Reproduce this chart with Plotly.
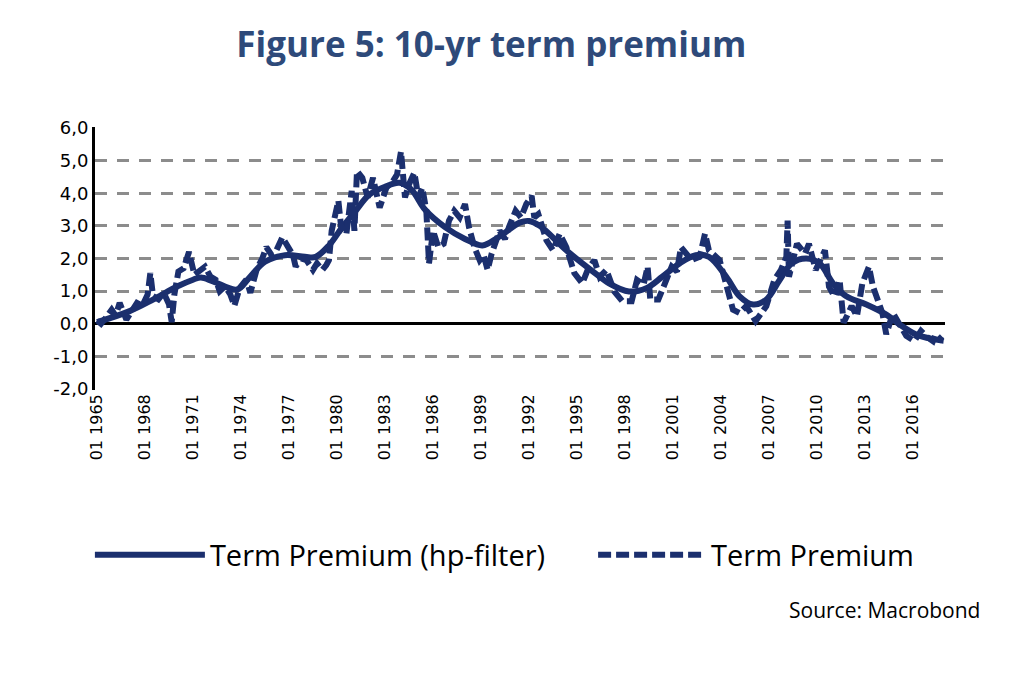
import plotly.graph_objects as go

# Term premium (raw)
tp_dates = [
    "1965-01", "1965-04", "1965-08", "1965-12", "1966-03", "1966-06", "1966-11",
    "1967-03", "1967-07", "1967-11", "1968-03", "1968-05", "1968-07", "1968-11",
    "1969-03", "1969-07", "1969-09", "1969-11", "1970-02", "1970-06", "1970-10",
    "1971-02", "1971-06", "1971-10", "1972-02", "1972-06", "1972-09", "1973-01",
    "1973-05", "1973-08", "1973-12", "1974-05", "1974-08", "1975-01", "1975-05",
    "1975-08", "1975-12", "1976-03", "1976-08", "1977-01", "1977-04", "1977-06",
    "1977-10", "1978-02", "1978-07", "1978-10", "1979-02", "1979-05", "1979-07",
    "1979-09", "1980-02", "1980-04", "1980-05", "1980-08", "1980-12", "1981-02",
    "1981-04", "1981-08", "1981-12", "1982-04", "1982-06", "1982-09", "1983-02",
    "1983-07", "1983-10", "1984-01", "1984-04", "1984-07", "1984-11", "1985-02",
    "1985-05", "1985-08", "1985-10", "1986-01", "1986-05", "1986-09", "1987-01",
    "1987-05", "1987-09", "1988-01", "1988-04", "1988-08", "1988-12", "1989-03",
    "1989-06", "1989-09", "1990-03", "1990-07", "1990-10", "1991-03", "1991-07",
    "1991-11", "1992-03", "1992-05", "1992-08", "1993-02", "1993-07", "1993-12",
    "1994-05", "1994-11", "1995-05", "1995-09", "1996-02", "1996-06", "1996-11",
    "1997-05", "1997-11", "1998-06", "1998-10", "1999-03", "1999-06", "1999-08",
    "2000-02", "2000-07", "2000-12", "2001-04", "2001-07", "2002-03", "2002-09",
    "2003-01", "2003-04", "2003-12", "2004-05", "2004-10", "2005-03", "2005-08",
    "2006-03", "2006-11", "2007-05", "2007-10", "2008-02", "2008-03", "2008-04",
    "2008-07", "2008-10", "2009-04", "2009-07", "2009-12", "2010-07", "2010-10",
    "2011-02", "2011-06", "2011-09", "2012-03", "2012-07", "2012-11", "2013-04",
    "2013-07", "2013-10", "2014-02", "2014-05", "2014-10", "2015-03", "2015-08",
    "2016-02", "2016-07", "2016-12", "2017-04", "2017-06", "2017-11",
]
tp_values = [
    0.10, 0.00, 0.20, 0.43, 0.25, 0.64, 0.13,
    0.40, 0.64, 0.55, 0.90, 1.55, 0.85, 0.75,
    0.95, 0.60, 0.05, 0.90, 1.60, 1.70, 2.20,
    1.50, 1.65, 1.75, 1.45, 1.35, 1.00, 1.15,
    0.90, 0.55, 1.10, 1.35, 0.95, 1.70, 2.00,
    2.35, 2.10, 2.20, 2.65, 2.30, 2.10, 1.75,
    2.00, 1.95, 1.65, 1.85, 1.65, 1.80, 1.95,
    2.85, 3.77, 3.00, 2.85, 2.75, 4.07, 2.85,
    4.68, 4.47, 3.87, 4.47, 4.10, 3.56, 4.17,
    4.37, 4.57, 5.28, 3.87, 4.27, 4.63, 3.87,
    4.17, 3.46, 1.85, 2.85, 2.35, 2.45, 3.16,
    3.46, 3.26, 3.67, 2.96, 2.35, 1.95, 2.10,
    1.65, 2.15, 2.85, 2.60, 2.96, 3.46, 3.26,
    3.67, 3.92, 3.26, 3.36, 2.56, 2.25, 2.76,
    2.35, 1.55, 1.24, 1.65, 1.95, 1.44, 1.65,
    0.99, 0.69, 0.69, 1.34, 1.20, 1.75, 0.74,
    0.74, 1.24, 1.75, 1.60, 2.35, 1.95, 2.05,
    2.76, 2.25, 1.95, 1.24, 0.43, 0.33, 0.54,
    0.08, 0.54, 1.34, 1.65, 2.05, 3.16, 1.44,
    1.95, 2.45, 2.15, 2.45, 1.65, 2.25, 1.14,
    0.84, 1.34, 0.03, 0.54, 0.23, 1.24, 1.75,
    1.14, 0.74, 0.33, -0.32, 0.33, -0.02, -0.37,
    -0.53, -0.22, -0.42, -0.53, -0.32, -0.53,
]

# Term premium, hp-filtered trend
hp_dates = [
    "1965-01", "1967-01", "1968-07", "1970-01", "1971-01", "1971-07", "1972-04",
    "1973-10", "1974-07", "1975-07", "1976-10", "1978-01", "1978-09", "1979-07",
    "1980-05", "1981-03", "1982-01", "1983-01", "1983-12", "1984-09", "1985-07",
    "1986-10", "1988-01", "1989-02", "1990-02", "1991-06", "1992-01", "1992-09",
    "1994-05", "1996-01", "1997-01", "1998-04", "1999-05", "2000-05", "2001-06",
    "2002-06", "2003-04", "2004-05", "2005-03", "2006-01", "2006-11", "2007-09",
    "2008-06", "2009-05", "2010-03", "2011-01", "2011-11", "2013-02", "2014-05",
    "2015-03", "2016-03", "2017-04", "2017-12",
]
hp_values = [
    0.05, 0.38, 0.74, 1.14, 1.35, 1.42, 1.30,
    1.05, 1.40, 1.90, 2.10, 2.05, 2.05, 2.40,
    2.96, 3.46, 3.95, 4.20, 4.32, 4.10, 3.50,
    2.96, 2.60, 2.40, 2.65, 3.10, 3.15, 3.00,
    2.25, 1.60, 1.24, 0.99, 1.09, 1.44, 1.85,
    2.10, 2.05, 1.44, 0.84, 0.59, 0.74, 1.34,
    1.85, 2.00, 1.85, 1.24, 0.84, 0.59, 0.28,
    -0.02, -0.32, -0.47, -0.52,
]

y_ticks = [-2, -1, 0, 1, 2, 3, 4, 5, 6]
y_labels = ["-2,0", "-1,0", "0,0", "1,0", "2,0", "3,0", "4,0", "5,0", "6,0"]

navy = "#1B2F6E"

fig = go.Figure()
fig.add_trace(go.Scatter(x=hp_dates, y=hp_values, mode="lines", name="Term Premium (hp-filter)",
                         line=dict(color=navy, width=6, shape="spline", smoothing=1.0),
                         legend="legend", showlegend=True))
fig.add_trace(go.Scatter(x=tp_dates, y=tp_values, mode="lines", name="Term Premium",
                         line=dict(color=navy, width=6, dash="13px,5px"),
                         legend="legend2", showlegend=True))

# page body has an 8px margin, so margins are shifted by 8
fig.update_layout(
    width=1024, height=677,
    showlegend=True,
    margin=dict(l=87, r=87, t=119, b=295),
    paper_bgcolor="white", plot_bgcolor="white",
    title=dict(text="<b>Figure 5: 10-yr term premium</b>", x=0.472, xanchor="center", y=0.945, yanchor="middle",
               font=dict(family="Open Sans", size=35, color="#2E4A7A")),
    legend=dict(orientation="h", x=-0.006, xanchor="left", y=-0.627, yanchor="middle",
                itemwidth=110, font=dict(family="Open Sans", size=29, color="black")),
    legend2=dict(orientation="h", x=0.586, xanchor="left", y=-0.627, yanchor="middle",
                 itemwidth=108, font=dict(family="Open Sans", size=29, color="black")),
    annotations=[dict(text="Source: Macrobond", xref="paper", yref="paper", x=1.044, y=-0.836,
                      xanchor="right", yanchor="middle", showarrow=False,
                      font=dict(family="Open Sans", size=21, color="black"))],
)
fig.update_xaxes(type="date", range=["1964-11-15", "2018-01-01"], dtick="M36", tick0="1965-01-01",
                 tickformat="%m %Y", tickangle=-90, showgrid=False, showline=False, ticks="",
                 tickfont=dict(family="DejaVu Sans", size=16, color="black"))
fig.update_yaxes(range=[-2.03, 6.03], tickvals=y_ticks, ticktext=y_labels, showgrid=True,
                 gridcolor="#8C8C8C", gridwidth=3, griddash="12px,10px",
                 zeroline=True, zerolinecolor="black", zerolinewidth=3,
                 showline=True, linecolor="black", linewidth=3, ticks="",
                 tickfont=dict(family="DejaVu Sans", size=18, color="black"))

fig.write_html("out.html")
